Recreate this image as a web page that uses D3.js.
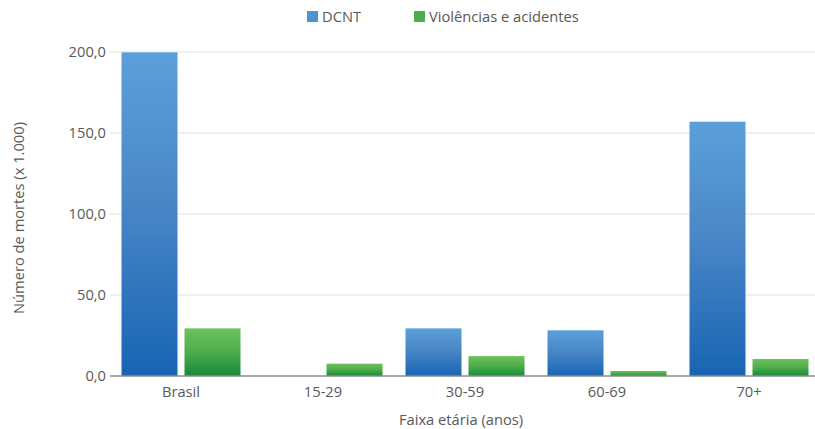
<!DOCTYPE html>
<html>
<head>
<meta charset="utf-8">
<script src="https://cdn.jsdelivr.net/npm/d3@7"></script>
<style>
  body { margin: 0; background: #fff; }
  svg text { font-family: "Open Sans", "Noto Sans", sans-serif; fill: #595959; }
</style>
</head>
<body>
<svg id="chart"></svg>
<script>
const categories = ["Brasil", "15-29", "30-59", "60-69", "70+"];
const seriesNames = ["DCNT", "Violências e acidentes"];
const dcnt = [199.8, 0, 29.4, 28.2, 157.0];
const violencias = [29.4, 7.6, 12.3, 3.1, 10.5];
const yTicks = [0, 50, 100, 150, 200];

const width = 815, height = 429;
const margin = {top: 52, right: -5, bottom: 53, left: 110};
const fontSize = 14.7;

const svg = d3.select("#chart").attr("width", width).attr("height", height);

const ptBR = d3.formatLocale({decimal: ",", thousands: ".", grouping: [3], currency: ["R$", ""]});
const fmt = ptBR.format(".1f");

// gradients like the original
const defs = svg.append("defs");
const grads = [
    {id: "g-blue", stops: [["0%", "#5ba0da"], ["45%", "#4a87c8"], ["100%", "#1865b3"]]},
    {id: "g-green", stops: [["0%", "#6cc15b"], ["45%", "#52b04c"], ["100%", "#178a3b"]]}
];
grads.forEach(g => {
    const lg = defs.append("linearGradient").attr("id", g.id)
        .attr("x1", 0).attr("y1", 0).attr("x2", 0).attr("y2", 1);
    g.stops.forEach(s => lg.append("stop").attr("offset", s[0]).attr("stop-color", s[1]));
});
const color = d3.scaleOrdinal().domain(seriesNames).range(["url(#g-blue)", "url(#g-green)"]);
const legendColor = d3.scaleOrdinal().domain(seriesNames).range(["#4f93d2", "#4cae4c"]);

const x = d3.scaleBand()
    .domain(categories)
    .range([margin.left, width - margin.right]);

const xs = d3.scaleBand()
    .domain(seriesNames)
    .range([0, x.bandwidth()])
    .paddingInner(0.111)
    .paddingOuter(0.1825);

const y = d3.scaleLinear()
    .domain([0, 200])
    .range([height - margin.bottom, margin.top]);

// grid
svg.append("g")
    .selectAll("line")
    .data(yTicks.filter(d => d > 0))
    .join("line")
    .attr("x1", margin.left)
    .attr("x2", width)
    .attr("y1", d => y(d))
    .attr("y2", d => y(d))
    .attr("stroke", "#e0e0e0")
    .attr("stroke-width", 1);

// y axis labels
const yAxis = svg.append("g")
    .attr("transform", `translate(${margin.left},0)`)
    .call(d3.axisLeft(y).tickValues(yTicks).tickFormat(fmt).tickSize(0).tickPadding(4));
yAxis.select(".domain").remove();
yAxis.selectAll("text").attr("font-size", fontSize).attr("fill", "#595959");

const rows = categories.map((c, i) => ({cat: c, values: [dcnt[i], violencias[i]]}));

svg.append("g")
    .selectAll("g")
    .data(rows)
    .join("g")
    .attr("transform", d => `translate(${x(d.cat)},0)`)
    .selectAll("rect")
    .data(d => d.values.map((v, j) => ({key: seriesNames[j], value: v})))
    .join("rect")
    .attr("x", d => xs(d.key))
    .attr("width", xs.bandwidth())
    .attr("y", d => y(d.value))
    .attr("height", d => y(0) - y(d.value))
    .attr("fill", d => color(d.key));

// baseline
svg.append("line")
    .attr("x1", margin.left)
    .attr("x2", width)
    .attr("y1", y(0))
    .attr("y2", y(0))
    .attr("stroke", "#8c8c8c")
    .attr("stroke-width", 1.5);

// x axis labels
const xAxis = svg.append("g")
    .attr("transform", `translate(0,${y(0)})`)
    .call(d3.axisBottom(x).tickSize(0).tickPadding(11));
xAxis.select(".domain").remove();
xAxis.selectAll("text").attr("font-size", fontSize).attr("fill", "#595959");

// axis titles
svg.append("text")
    .attr("x", (margin.left + width + 5) / 2 - 4)
    .attr("y", 425)
    .attr("text-anchor", "middle")
    .attr("font-size", fontSize)
    .text("Faixa etária (anos)");

svg.append("text")
    .attr("transform", `translate(24,${(y(0) + y(200)) / 2 + 4}) rotate(-90)`)
    .attr("text-anchor", "middle")
    .attr("font-size", fontSize)
    .text("Número de mortes (x 1.000)");

// legend
const legendX = [307, 414];
const legend = svg.append("g")
    .selectAll("g")
    .data(seriesNames)
    .join("g")
    .attr("transform", (d, i) => `translate(${legendX[i]},11)`);
legend.append("rect")
    .attr("width", 11)
    .attr("height", 11)
    .attr("fill", d => legendColor(d));
legend.append("text")
    .attr("x", 15)
    .attr("y", 11)
    .attr("font-size", fontSize)
    .text(d => d);
</script>
</body>
</html>
